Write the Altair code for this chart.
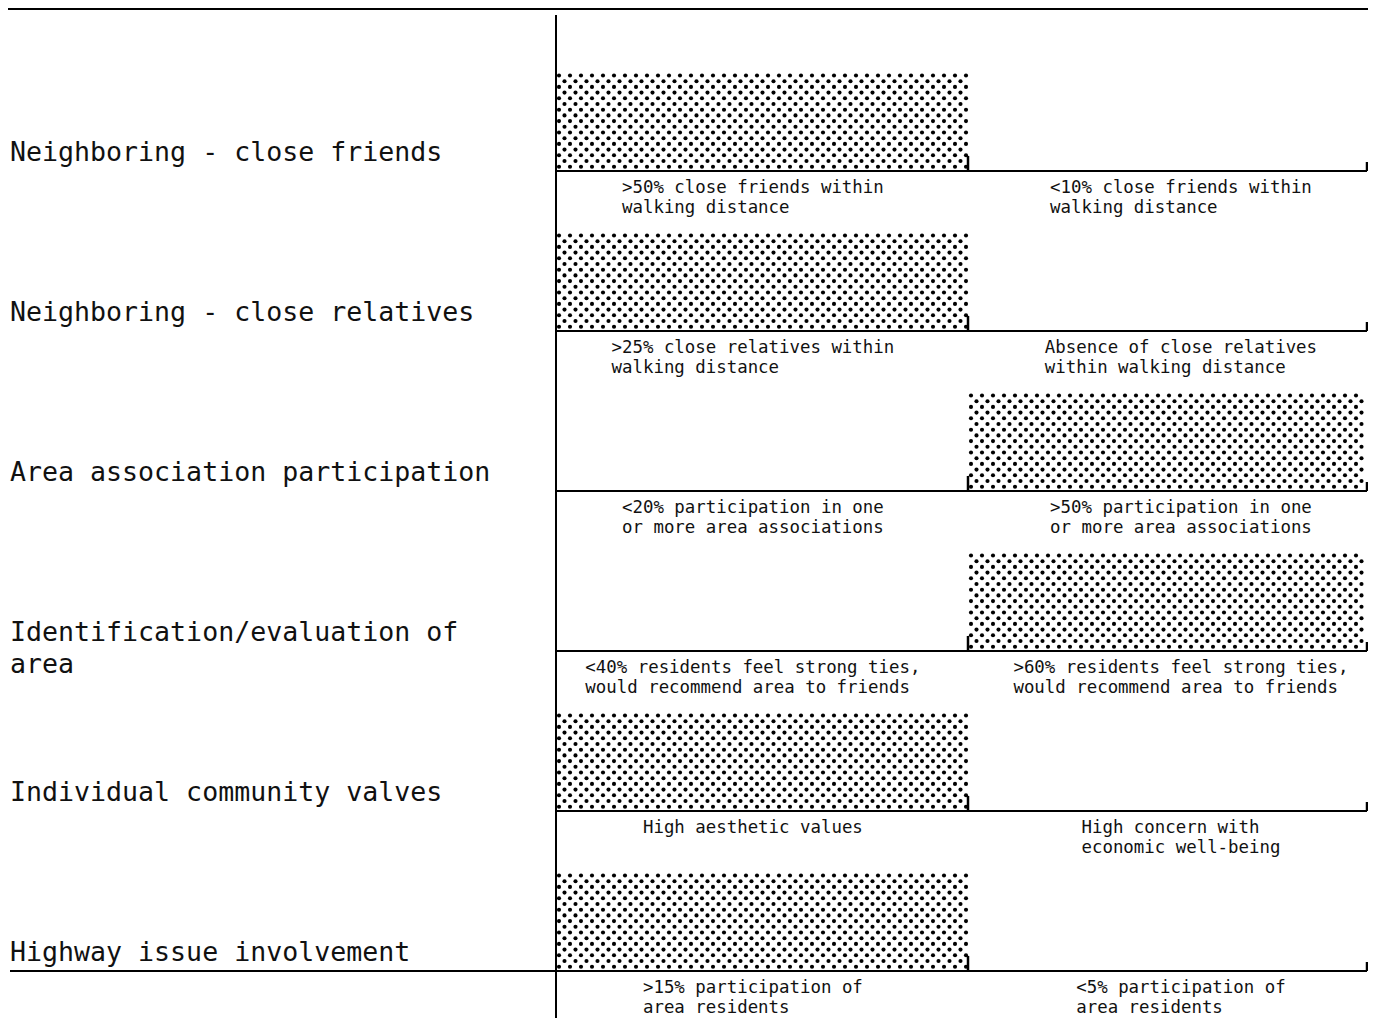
import altair as alt
import pandas as pd

# ---------------- data ----------------
categories = [
    "Neighboring - close friends",
    "Neighboring - close relatives",
    "Area association participation",
    "Identification/evaluation of area",
    "Individual community valves",
    "Highway issue involvement",
]
label_lines = [
    ["Neighboring - close friends"],
    ["Neighboring - close relatives"],
    ["Area association participation"],
    ["Identification/evaluation of", "area"],
    ["Individual community valves"],
    ["Highway issue involvement"],
]
shaded_side = ["left", "left", "right", "right", "left", "left"]
left_notes = [
    [">50% close friends within", "walking distance"],
    [">25% close relatives within", "walking distance"],
    ["<20% participation in one", "or more area associations"],
    ["<40% residents feel strong ties,", "would recommend area to friends"],
    ["High aesthetic values"],
    [">15% participation of", "area residents"],
]
right_notes = [
    ["<10% close friends within", "walking distance"],
    ["Absence of close relatives", "within walking distance"],
    [">50% participation in one", "or more area associations"],
    [">60% residents feel strong ties,", "would recommend area to friends"],
    ["High concern with", "economic well-being"],
    ["<5% participation of", "area residents"],
]

# ---------------- layout constants ----------------
W, H = 1360, 1010
XU = 412.0        # px per half-panel
AXIS_PX = 548.0   # chart px of the vertical axis
YU = 160.0        # px per row
Y0_PX = 3.0
FONT = "DejaVu Sans Mono"
LABEL_FS = 26.6
NOTE_FS = 17.4


def ux(p):
    return p / XU


def uy(p):
    return p / YU


x_dom = [-AXIS_PX / XU, (W - AXIS_PX) / XU]
y_dom = [-Y0_PX / YU, (H - Y0_PX) / YU]
xs = alt.Scale(domain=x_dom, nice=False, zero=False)
ys = alt.Scale(domain=y_dom, nice=False, zero=False, reverse=True)

LABEL_X = ux(2 - AXIS_PX)
RIGHT_END = ux(1359 - AXIS_PX)
n = len(categories)

rows = pd.DataFrame({
    "cat": categories,
    "base": [i + 1 for i in range(n)],
    "x0": [0.0 if s == "left" else 1.0 for s in shaded_side],
    "x1": [1.0 if s == "left" else 2.0 for s in shaded_side],
    "start": [LABEL_X if i == n - 1 else 0.0 for i in range(n)],
})
rows["top"] = rows["base"] - uy(98)
rows["end"] = RIGHT_END
rows["mid"] = 1.0
rows["axis_x"] = 0.0
rows["tick_top"] = rows["base"] - uy(15)
rows["rtick_top"] = rows["base"] - uy(9)
rows["label"] = ["\n".join(l) for l in label_lines]
rows["label_x"] = LABEL_X
rows["label_y"] = rows["base"] - uy(4)

note_recs = []
for i in range(n):
    for side, nts, center in (("left", left_notes[i], 0.478), ("right", right_notes[i], 1.517)):
        width_px = max(len(s) for s in nts) * 0.602 * NOTE_FS
        note_recs.append({
            "text": "\n".join(nts),
            "nx": center - ux(width_px / 2),
            "ny": i + 1 + uy(21.5),
        })
notes_df = pd.DataFrame(note_recs)

base = alt.Chart(rows)

# halftone dots filling each shaded bar (texture built from the bar extents)
dots = base.transform_calculate(
    ix="sequence(0, 38)"
).transform_flatten(["ix"], as_=["ixf"]).transform_calculate(
    iy="sequence(0, 17)"
).transform_flatten(["iy"], as_=["iyf"]).transform_calculate(
    px=f"datum.x0 + {ux(3)} + (datum.ixf + (datum.iyf % 2) * 0.5) * {ux(11)}",
    py=f"datum.top + {uy(2.5)} + datum.iyf * {uy(5.7)}",
).transform_filter(
    f"datum.px <= min(datum.x1 - {ux(2)}, {x_dom[1] - ux(2)})"
).mark_circle(size=17, color="black", opacity=1).encode(
    x=alt.X("px:Q", scale=xs, axis=None),
    y=alt.Y("py:Q", scale=ys, axis=None),
)

baselines = base.mark_rule(color="black", strokeWidth=2).encode(
    x=alt.X("start:Q", scale=xs, axis=None),
    x2="end:Q",
    y=alt.Y("base:Q", scale=ys, axis=None),
)

mid_ticks = base.mark_rule(color="black", strokeWidth=2.5).encode(
    x=alt.X("mid:Q", scale=xs, axis=None),
    y=alt.Y("base:Q", scale=ys, axis=None),
    y2="tick_top:Q",
)

end_ticks = base.mark_rule(color="black", strokeWidth=2.5).encode(
    x=alt.X("end:Q", scale=xs, axis=None),
    y=alt.Y("base:Q", scale=ys, axis=None),
    y2="rtick_top:Q",
)

axis_line = base.mark_rule(color="black", strokeWidth=2).encode(
    x=alt.X("axis_x:Q", scale=xs, axis=None),
    y=alt.value(7),
    y2=alt.value(H),
)

top_line = base.mark_rule(color="black", strokeWidth=2).encode(
    x=alt.value(0), x2=alt.value(W), y=alt.value(1),
)

labels = base.mark_text(
    align="left", baseline="bottom", font=FONT, fontSize=LABEL_FS,
    lineHeight=32, lineBreak="\n", color="#111111",
).encode(
    x=alt.X("label_x:Q", scale=xs, axis=None),
    y=alt.Y("label_y:Q", scale=ys, axis=None),
    text="label:N",
)

notes = alt.Chart(notes_df).mark_text(
    align="left", baseline="alphabetic", font=FONT, fontSize=NOTE_FS,
    lineHeight=20.5, lineBreak="\n", color="#111111",
).encode(
    x=alt.X("nx:Q", scale=xs, axis=None),
    y=alt.Y("ny:Q", scale=ys, axis=None),
    text="text:N",
)

chart = alt.layer(
    dots, baselines, mid_ticks, end_ticks, axis_line, top_line, labels, notes
).properties(
    width=W, height=H, padding=0, background="white",
    autosize=alt.AutoSizeParams(type="none"),
).configure_view(stroke=None)

chart.save("out.html", embed_options={"renderer": "svg", "actions": False})
